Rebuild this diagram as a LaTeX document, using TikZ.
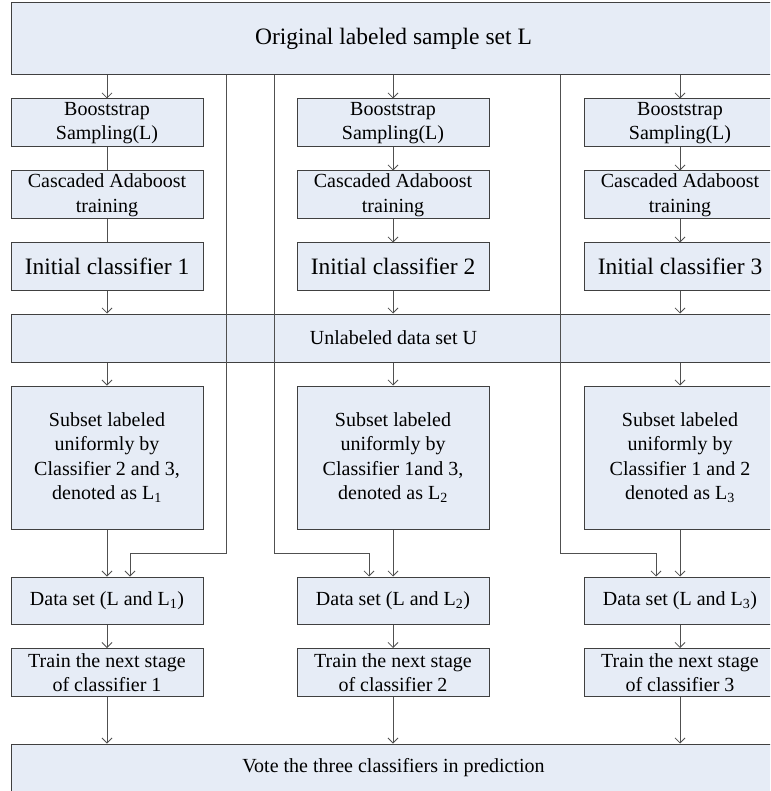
\documentclass[tikz,border=0pt]{standalone}
\usepackage{fontspec}
\setmainfont{Liberation Serif}
\usetikzlibrary{arrows.meta}
\definecolor{boxfill}{RGB}{230,236,246}
\definecolor{boxline}{RGB}{64,64,64}
\definecolor{lnc}{RGB}{80,80,80}
\tikzset{
  box/.style={draw=boxline, line width=1pt, fill=boxfill, rectangle, inner sep=0pt,
    minimum width=192pt, minimum height=48pt, align=center,
    font=\fontsize{20}{24.5}\selectfont},
  bigtext/.style={font=\fontsize{23.5}{28}\selectfont},
  ln/.style={draw=lnc, line width=0.9pt},
  arr/.style={ln, -{Straight Barb[length=5pt,width=10pt,line width=0.8pt]}},
}
\begin{document}
\begin{tikzpicture}[x=1pt,y=-1pt]
\useasboundingbox (0,0) rectangle (770,791);
\clip (0,0) rectangle (770,791);
\fill[white] (0,0) rectangle (770,791);
% wide boxes
\node[box, bigtext, minimum width=765pt, minimum height=72pt] (top) at (393.5,39) {Original labeled sample set L};
\node[box, minimum width=765pt] (unl) at (393.5,338) {Unlabeled data set U};
\node[box, minimum width=765pt] (vote) at (393.5,768) {Vote the three classifiers in prediction};
% column boxes
\foreach \i/\cx in {1/107,2/393,3/680}{
  \node[box] (boot\i) at (\cx,123) {Booststrap\\Sampling(L)};
  \node[box] (casc\i) at (\cx,195) {Cascaded Adaboost\\training};
  \node[box, bigtext, minimum height=47pt] (init\i) at (\cx,266.5) {Initial classifier \i};
  \node[box] (train\i) at (\cx,672.5) {Train the next stage\\of classifier \i};
  \node[box, minimum height=47pt] (data\i) at (\cx,600.5) {Data set (L and L\textsubscript{\i})};
}
\node[box, minimum height=143pt] (sub1) at (107,457.5) {Subset labeled\\uniformly by\\Classifier 2 and 3,\\denoted as L\textsubscript{1}};
\node[box, minimum height=143pt] (sub2) at (393,457.5) {Subset labeled\\uniformly by\\Classifier 1and 3,\\denoted as L\textsubscript{2}};
\node[box, minimum height=143pt] (sub3) at (680,457.5) {Subset labeled\\uniformly by\\Classifier 1 and 2\\denoted as L\textsubscript{3}};
% connectors
\draw[arr] (top.south -| boot1) -- (boot1.north);
\draw[ln] (boot1) -- (casc1);
\draw[ln] (casc1) -- (init1);
\foreach \i in {2,3}{
  \draw[arr] (top.south -| boot\i) -- (boot\i.north);
  \draw[arr] (boot\i) -- (casc\i.north);
  \draw[arr] (casc\i) -- (init\i.north);
}
\foreach \i in {1,2,3}{
  \draw[arr] (init\i) -- (init\i.south |- unl.north);
  \draw[arr] (unl.south -| sub\i) -- (sub\i.north);
  \draw[arr] (sub\i) -- (data\i.north);
  \draw[arr] (data\i) -- (train\i.north);
  \draw[arr] (train\i) -- (train\i.south |- vote.north);
}
\coordinate (k1) at (226,553);
\coordinate (k2) at (274,553);
\coordinate (k3) at (560,553);
\draw[arr] (top.south -| k1) -- (k1) -| ([xshift=23pt]data1.north);
\draw[arr] (top.south -| k2) -- (k2) -| ([xshift=-24pt]data2.north);
\draw[arr] (top.south -| k3) -- (k3) -| ([xshift=-24pt]data3.north);
\end{tikzpicture}
\end{document}
